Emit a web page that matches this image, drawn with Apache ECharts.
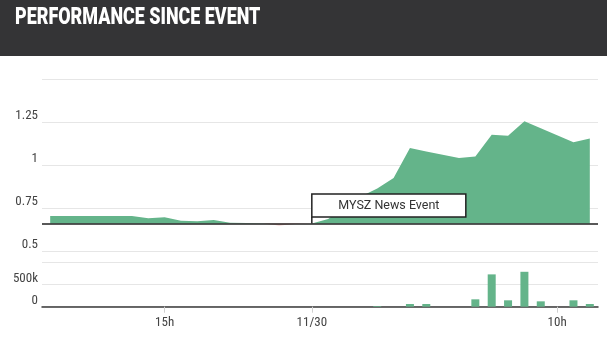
<!DOCTYPE html>
<html>
<head>
<meta charset="utf-8">
<script src="https://cdn.jsdelivr.net/npm/echarts@6.0.0/dist/echarts.min.js"></script>
<style>
  html, body { margin: 0; padding: 0; background: #fff; }
  #chart { width: 607px; height: 342px; }
</style>
</head>
<body>
<div id="chart"></div>
<script>
// Sampling times (ordinal axis: overnight gap is skipped)
const times = [
  '11/29 08:00', '11/29 09:00', '11/29 10:00', '11/29 11:00', '11/29 12:00',
  '11/29 13:00', '11/29 14:00', '11/29 15:00', '11/29 16:00', '11/29 17:00',
  '11/29 18:00', '11/29 19:00', '11/29 20:00', '11/29 21:00', '11/29 22:00',
  '11/29 23:00', '11/30 00:00', '11/30 03:00', '11/30 03:30', '11/30 04:00',
  '11/30 04:30', '11/30 05:00', '11/30 05:30', '11/30 06:00', '11/30 06:30',
  '11/30 07:00', '11/30 07:30', '11/30 08:00', '11/30 08:30', '11/30 09:00',
  '11/30 09:30', '11/30 10:00', '11/30 10:30', '11/30 11:00'
];

// Labelled ticks on the time axis
const tickLabels = {
  '11/29 15:00': '15h',
  '11/30 00:00': '11/30',
  '11/30 10:00': '10h'
};

// Share price
const price = [
  0.706, 0.706, 0.706, 0.706, 0.706, 0.706, 0.693, 0.700, 0.679, 0.676,
  0.683, 0.667, 0.666, 0.665, 0.652, 0.660, 0.664, 0.690, 0.760, 0.820,
  0.866, 0.927, 1.100, 1.080, 1.061, 1.042, 1.051, 1.177, 1.171, 1.255,
  1.215, 1.174, 1.134, 1.155
];

// Traded volume
const volume = [
  0, 0, 0, 0, 0, 0, 0, 0, 0, 0,
  0, 0, 0, 0, 0, 0, 0, 0, 0, 0,
  15000, 0, 60000, 60000, 0, 0, 165000, 723000, 143000, 781000,
  120000, 0, 143000, 60000
];

// News event
const eventTime = '11/30 00:00';
const eventTitle = 'MYSZ News Event';

const eventIndex = times.indexOf(eventTime);
const threshold = price[eventIndex];
const above = price.map(v => Math.max(v, threshold));
const below = price.map(v => Math.min(v, threshold));

const GREEN = '#64b48a';
const LABEL_FONT = "'Liberation Sans Narrow', 'Roboto Condensed', Roboto, sans-serif";
const labelColor = '#444';

const chart = echarts.init(document.getElementById('chart'), null, { renderer: 'canvas' });

const showTick = (i, v) => Object.prototype.hasOwnProperty.call(tickLabels, v);

chart.setOption({
  animation: false,
  backgroundColor: '#fff',
  graphic: [
    {
      type: 'rect',
      left: 0, top: 0,
      shape: { width: 607, height: 56 },
      style: { fill: '#343436' },
      z: 10
    },
    {
      type: 'text',
      x: 15, y: 18,
      scaleX: 0.78,
      style: {
        text: 'PERFORMANCE SINCE EVENT',
        fill: '#ffffff',
        font: '900 23px Roboto, sans-serif',
        verticalAlign: 'middle',
        align: 'left'
      },
      z: 11
    }
  ],
  grid: [
    { left: 42, right: 9, top: 79, height: 172.7 },
    { left: 42, right: 9, top: 262, height: 44.7 }
  ],
  xAxis: [
    {
      type: 'category', gridIndex: 0, data: times, boundaryGap: true,
      show: false
    },
    {
      type: 'category', gridIndex: 1, data: times, boundaryGap: true,
      axisLine: { show: true, lineStyle: { color: '#3a3a3a', width: 1.5 } },
      axisTick: { show: true, alignWithLabel: true, interval: showTick, length: 6, lineStyle: { color: '#d0d0d0' } },
      axisLabel: {
        interval: showTick,
        formatter: v => tickLabels[v] || '',
        color: labelColor, fontFamily: LABEL_FONT, fontSize: 13, margin: 10
      },
      splitLine: { show: false }
    }
  ],
  yAxis: [
    {
      type: 'value', gridIndex: 0, min: 0.5, max: 1.5, interval: 0.25,
      axisLine: { show: false }, axisTick: { show: false },
      axisLabel: {
        showMaxLabel: false,
        color: labelColor, fontFamily: LABEL_FONT, fontSize: 13,
        verticalAlign: 'bottom', lineHeight: 13, margin: 4,
        formatter: v => String(+v.toFixed(2))
      },
      splitLine: { lineStyle: { color: '#e6e6e6' } }
    },
    {
      type: 'value', gridIndex: 1, min: 0, max: 1000000, interval: 500000,
      axisLine: { show: false }, axisTick: { show: false },
      axisLabel: {
        showMaxLabel: false,
        color: labelColor, fontFamily: LABEL_FONT, fontSize: 13,
        verticalAlign: 'bottom', lineHeight: 12, margin: 4,
        formatter: v => (v === 0 ? '0' : (v / 1000) + 'k')
      },
      splitLine: { lineStyle: { color: '#e6e6e6' } }
    }
  ],
  series: [
    {
      name: 'Price',
      type: 'line',
      xAxisIndex: 0, yAxisIndex: 0,
      data: above,
      showSymbol: false,
      lineStyle: { width: 0 },
      itemStyle: { color: GREEN },
      areaStyle: { color: GREEN, opacity: 1, origin: threshold },
      markLine: {
        silent: true,
        symbol: 'none',
        label: { show: false },
        lineStyle: { color: '#222', width: 1.5, type: 'solid' },
        data: [{ yAxis: threshold }]
      },
      z: 2
    },
    {
      name: 'Price below event',
      type: 'line',
      xAxisIndex: 0, yAxisIndex: 0,
      data: below,
      showSymbol: false,
      lineStyle: { width: 0 },
      itemStyle: { color: '#e8a8a8' },
      areaStyle: { color: 'rgba(226,140,140,0.6)', opacity: 1, origin: threshold },
      z: 2
    },
    {
      name: 'Volume',
      type: 'bar',
      xAxisIndex: 1, yAxisIndex: 1,
      data: volume,
      barWidth: 8,
      itemStyle: { color: GREEN }
    },
    {
      name: 'Event',
      type: 'custom',
      xAxisIndex: 0, yAxisIndex: 0,
      clip: false,
      z: 5,
      data: [[eventIndex, threshold, eventTitle]],
      renderItem: function (params, api) {
        const p = api.coord([api.value(0), api.value(1)]);
        const boxW = 154, boxH = 23, stem = 6.5;
        const top = p[1] - stem - boxH;
        return {
          type: 'group',
          children: [
            {
              type: 'line',
              shape: { x1: p[0], y1: p[1], x2: p[0], y2: p[1] - stem },
              style: { stroke: '#222', lineWidth: 1.5 }
            },
            {
              type: 'rect',
              shape: { x: p[0], y: top, width: boxW, height: boxH },
              style: { fill: '#fff', stroke: '#222', lineWidth: 1.5 }
            },
            {
              type: 'text',
              style: {
                x: p[0] + boxW / 2, y: top + boxH / 2,
                text: api.value(2),
                align: 'center', verticalAlign: 'middle',
                font: '12.5px Roboto, sans-serif',
                fill: '#333'
              }
            }
          ]
        };
      }
    }
  ]
});
</script>
</body>
</html>
